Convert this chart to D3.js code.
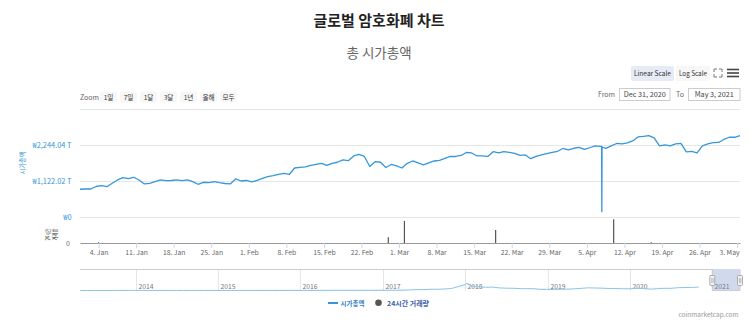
<!DOCTYPE html>
<html><head><meta charset="utf-8">
<script src="https://cdn.jsdelivr.net/npm/d3@7"></script>
<style>
body{margin:0;background:#fff}
svg{display:block}
text{font-family:"Noto Sans CJK KR","Noto Sans",sans-serif}
</style>
</head><body>
<svg id="c" width="750" height="326"></svg>
<script>
// ---------------- DATA ----------------
const titleText = "글로벌 암호화폐 차트";
const subtitleText = "총 시가총액";
const capStartDate = "2020-12-31T13:00:00Z"; // one point per day
// Total market cap, trillion KRW (daily)
const marketCap = [
  858, 867, 867, 945, 970, 939, 1045, 1149, 1221, 1189,
  1233, 1149, 1024, 1045, 1096, 1149, 1127, 1133, 1155, 1127,
  1149, 1096, 1014, 1077, 1064, 1096, 1064, 1039, 1024, 1180,
  1117, 1133, 1086, 1133, 1196, 1252, 1283, 1327, 1352, 1321,
  1524, 1540, 1556, 1609, 1640, 1671, 1603, 1671, 1703, 1775,
  1753, 1900, 1947, 1884, 1571, 1722, 1703, 1540, 1634, 1587,
  1524, 1671, 1743, 1681, 1618, 1681, 1743, 1759, 1822, 1884,
  1884, 1916, 2009, 1994, 1900, 1900, 1884, 2035, 1994, 2035,
  2009, 1978, 1916, 1931, 1815, 1884, 1931, 1972, 2009, 2047,
  2135, 2088, 2141, 2166, 2103, 2157, 2213, 2200, 2135, 2213,
  2291, 2276, 2313, 2369, 2495, 2510, 2535, 2463, 2213, 2244,
  2213, 2276, 2291, 2025, 2041, 1994, 2213, 2276, 2316, 2322,
  2416, 2485, 2485, 2535
];
// intraday glitch around 7 Apr (hourly points)
const glitchDates  = ["2021-04-07T18:00:00Z", "2021-04-07T19:00:00Z", "2021-04-07T20:00:00Z"];
const glitchValues = [2200, 157, 2180];
// 24h volume (trillion KRW) - only visible bars
const volumeDates  = ["2021-01-04", "2021-02-27", "2021-03-02", "2021-03-19", "2021-04-10", "2021-04-17"];
const volumeValues = [3, 23, 88, 52, 95, 3];
const volumeMax = 100;
// y-axis ticks (trillion KRW)
const capTicks = [0, 1122.02, 2244.04, 3366.06];
// navigator history (monthly, trillion KRW)
const navHistDates = [
  "2013-04-28","2013-05-01","2013-06-01","2013-07-01","2013-08-01","2013-09-01","2013-10-01","2013-11-01","2013-12-01",
  "2014-01-01","2014-02-01","2014-03-01","2014-04-01","2014-05-01","2014-06-01","2014-07-01","2014-08-01","2014-09-01","2014-10-01","2014-11-01","2014-12-01",
  "2015-01-01","2015-02-01","2015-03-01","2015-04-01","2015-05-01","2015-06-01","2015-07-01","2015-08-01","2015-09-01","2015-10-01","2015-11-01","2015-12-01",
  "2016-01-01","2016-02-01","2016-03-01","2016-04-01","2016-05-01","2016-06-01","2016-07-01","2016-08-01","2016-09-01","2016-10-01","2016-11-01","2016-12-01",
  "2017-01-01","2017-02-01","2017-03-01","2017-04-01","2017-05-01","2017-06-01","2017-07-01","2017-08-01","2017-09-01","2017-10-01","2017-11-01","2017-12-01",
  "2018-01-01","2018-01-08","2018-02-01","2018-03-01","2018-04-01","2018-05-01","2018-06-01","2018-07-01","2018-08-01","2018-09-01","2018-10-01","2018-11-01","2018-12-01",
  "2019-01-01","2019-02-01","2019-03-01","2019-04-01","2019-05-01","2019-06-01","2019-07-01","2019-08-01","2019-09-01","2019-10-01","2019-11-01","2019-12-01",
  "2020-01-01","2020-02-01","2020-03-01","2020-04-01","2020-05-01","2020-06-01","2020-07-01","2020-08-01","2020-09-01","2020-10-01","2020-11-01","2020-12-01"
];
const navHistValues = [
  1.6, 1.3, 1.1, 1.0, 1.3, 1.5, 2.0, 8, 12,
  11, 8, 7, 6, 7, 8, 7, 6, 5, 4.5, 5, 4.5,
  3.5, 3.5, 3.6, 3.5, 3.5, 3.6, 4.5, 4, 4, 4.5, 6, 7,
  7, 7.5, 8.5, 8.5, 9, 12, 11.5, 11, 11.5, 12.5, 14, 16,
  19, 22, 27, 35, 70, 120, 110, 160, 160, 190, 260, 520,
  780, 950, 560, 520, 420, 450, 340, 300, 290, 240, 240, 230,
  140, 140, 135, 160, 170, 220, 280, 350, 320, 300, 250, 260,
  220, 225, 280, 260, 175, 230, 280, 280, 360, 390, 380, 450
];
const navStartDate = "2013-04-28";
const navYears = ["2014","2015","2016","2017","2018","2019","2020","2021"];
const zoomButtons = ["1일", "7일", "1달", "3달", "1년", "올해", "모두"];
const seriesNames = ["시가총액", "24시간 거래량"];
const fromText = "Dec 31, 2020", toText = "May 3, 2021";

// ---------------- CHART ----------------
const svg = d3.select("#c");
const BLUE = "#3597d9";
const L = 80, R = 740;

function txt(x, y, s, size, o = {}) {
  const t = svg.append("text")
    .attr("transform", `translate(${x},${y})` + (o.rot ? ` rotate(${o.rot})` : ""))
    .attr("font-size", size)
    .attr("fill", o.fill || "#333")
    .attr("text-anchor", o.anchor || "start")
    .text(s);
  if (o.weight) t.attr("font-weight", o.weight);
  if (o.len) t.attr("textLength", o.len).attr("lengthAdjust", "spacingAndGlyphs");
  return t;
}

// Titles
txt(379, 26, titleText, 15, {anchor: "middle", weight: "bold", fill: "#222"});
txt(379, 58, subtitleText, 13.5, {anchor: "middle", fill: "#666"});

// Top right buttons
svg.append("rect").attr("x", 631).attr("y", 66).attr("width", 43).attr("height", 15).attr("rx", 2).attr("fill", "#e6ebf5");
txt(652.5, 76, "Linear Scale", 7.2, {anchor: "middle", fill: "#333", len: 37});
svg.append("rect").attr("x", 676).attr("y", 66).attr("width", 34).attr("height", 15).attr("rx", 2).attr("fill", "#f7f7f7");
txt(693, 76, "Log Scale", 7.2, {anchor: "middle", fill: "#333", len: 28});
// fullscreen icon
const fs = svg.append("g").attr("stroke", "#777").attr("stroke-width", 1).attr("fill", "none");
fs.append("path").attr("d", "M714,72 L714,69 L717,69 M719,69 L722,69 L722,72 M722,74 L722,77 L719,77 M717,77 L714,77 L714,74");
// hamburger
[69.5, 73, 76.5].forEach(y => svg.append("line").attr("x1", 727).attr("x2", 739).attr("y1", y).attr("y2", y).attr("stroke", "#444").attr("stroke-width", 1.6));

// Zoom row
txt(80, 99.5, "Zoom", 7, {fill: "#666"});
zoomButtons.forEach((b, i) => {
  const x = 100 + i * 20;
  svg.append("rect").attr("x", x).attr("y", 91.5).attr("width", 17).attr("height", 11).attr("rx", 2).attr("fill", "#f7f7f7");
  txt(x + 8.5, 99.5, b, 6.6, {anchor: "middle", fill: "#333"});
});
// From / To
txt(615, 97, "From", 7, {anchor: "end", fill: "#666"});
svg.append("rect").attr("x", 619.5).attr("y", 88.5).attr("width", 50.5).attr("height", 12).attr("fill", "#fff").attr("stroke", "#ccc");
txt(644.7, 97, fromText, 7, {anchor: "middle", fill: "#444", len: 42});
txt(676, 97, "To", 7, {fill: "#666"});
svg.append("rect").attr("x", 688.5).attr("y", 88.5).attr("width", 51.5).attr("height", 12).attr("fill", "#fff").attr("stroke", "#ccc");
txt(714.2, 97, toText, 7, {anchor: "middle", fill: "#444", len: 39});

// Series assembly
const start = new Date(capStartDate);
const capPoints = marketCap.map((v, i) => ({date: d3.utcDay.offset(start, i), value: v}))
  .concat(glitchDates.map((d, i) => ({date: new Date(d), value: glitchValues[i]})))
  .sort((a, b) => a.date - b.date);
const firstDate = capPoints[0].date, lastDate = capPoints[capPoints.length - 1].date;

// Scales
const x = d3.scaleUtc().domain([firstDate, lastDate]).range([L, R]);
const y = d3.scaleLinear().domain([0, 3366.06]).range([216.7, 109.1]);
const yv = d3.scaleLinear().domain([0, volumeMax]).range([243, 218]);

// gridlines
svg.append("g").selectAll("line").data(capTicks).join("line")
  .attr("x1", L).attr("x2", R).attr("y1", d => Math.round(y(d)) + 0.5).attr("y2", d => Math.round(y(d)) + 0.5)
  .attr("stroke", "#e6e6e6").attr("stroke-width", 1);

// Y axis (main)
const yAxis = svg.append("g").attr("transform", `translate(${L},0)`)
  .call(d3.axisLeft(y).tickValues(capTicks.slice(0, 3)).tickSize(0)
    .tickFormat(d => d === 0 ? "₩0" : "₩" + d3.format(",.2f")(d) + " T"));
yAxis.select(".domain").remove();
yAxis.selectAll("text").attr("x", -8.5).attr("dy", "0.33em").attr("font-size", 7.4).attr("fill", BLUE)
  .attr("font-family", '"Noto Sans CJK KR",sans-serif');

// Y axis title
txt(25, 163, seriesNames[0], 6.5, {anchor: "middle", rot: -90, fill: BLUE, len: 23});
// volume axis
const vAxis = svg.append("g").attr("transform", `translate(${L},0)`)
  .call(d3.axisLeft(yv).tickValues([0]).tickSize(0).tickFormat(d3.format("d")));
vAxis.select(".domain").remove();
vAxis.selectAll("text").attr("x", -10).attr("dy", "0.33em").attr("font-size", 7).attr("fill", "#666")
  .attr("font-family", '"Noto Sans CJK KR",sans-serif');
txt(50, 234.5, "24시간", 5.8, {anchor: "middle", rot: -90, fill: "#333", len: 12});
txt(56.5, 234.5, "거래량", 5.8, {anchor: "middle", rot: -90, fill: "#333", len: 12});

// main line
svg.append("path").datum(capPoints)
  .attr("fill", "none").attr("stroke", BLUE).attr("stroke-width", 1.3).attr("stroke-linejoin", "round")
  .attr("d", d3.line().x(d => x(d.date)).y(d => y(d.value)));

// volume columns
svg.append("g").selectAll("rect").data(volumeValues).join("rect")
  .attr("x", (d, i) => x(new Date(volumeDates[i] + "T00:00:00Z")) - 0.6)
  .attr("width", 1.2)
  .attr("y", d => yv(d)).attr("height", d => 243 - yv(d))
  .attr("fill", "#555");

// X axis
const mondays = d3.utcMonday.range(d3.utcDay.ceil(firstDate), d3.utcDay.offset(lastDate, 1));
const xAxis = svg.append("g").attr("transform", "translate(0,243)")
  .call(d3.axisBottom(x).tickValues(mondays).tickFormat(d3.utcFormat("%-d. %b")).tickSize(5).tickSizeOuter(0));
xAxis.select(".domain").attr("stroke", "#999");
xAxis.selectAll(".tick line").attr("stroke", "#ccd6eb");
xAxis.selectAll("text").attr("y", 11.5).attr("dy", null).attr("font-size", 6.8).attr("fill", "#666")
  .attr("font-family", '"Noto Sans CJK KR",sans-serif')
  .each(function(d) {
    const w = this.getComputedTextLength();
    const cx = x(d);
    if (cx + w / 2 > 739) d3.select(this).attr("x", 739 - w / 2 - cx);
  });

// Navigator
const navStart = new Date(navStartDate + "T00:00:00Z");
const navX = d3.scaleUtc().domain([navStart, lastDate]).range([L, R]);
const navPts = navHistDates.map((s, i) => ({date: new Date(s + "T00:00:00Z"), value: navHistValues[i]}))
  .concat(marketCap.map((v, i) => ({date: d3.utcDay.offset(start, i), value: v})));
const navY = d3.scaleLinear().domain([0, d3.max(navPts, d => d.value)]).range([290.5, 271]);
const NT = 269, NB = 291;
navYears.forEach(yr => {
  const d = new Date(yr + "-01-01T00:00:00Z");
  const gx = Math.round(navX(d)) + 0.5;
  svg.append("line").attr("x1", gx).attr("x2", gx).attr("y1", NT).attr("y2", NB).attr("stroke", "#e6e6e6");
  txt(gx + 2, 289.3, yr, 6.8, {fill: "#777"});
});
svg.append("path").datum(navPts)
  .attr("fill", "rgba(61,154,216,0.06)")
  .attr("d", d3.area().x(d => navX(d.date)).y0(NB).y1(d => navY(d.value)));
svg.append("path").datum(navPts)
  .attr("fill", "none").attr("stroke", "#8cc4ec").attr("stroke-width", 1)
  .attr("d", d3.line().x(d => navX(d.date)).y(d => navY(d.value)));
// mask
const mL = navX(firstDate), mR = navX(lastDate);
svg.append("rect").attr("x", mL).attr("y", NT).attr("width", mR - mL).attr("height", NB - NT)
  .attr("fill", "rgba(102,133,194,0.3)");
svg.append("path").attr("fill", "none").attr("stroke", "#ccc")
  .attr("d", `M${L},${NT + 0.5} L${mL},${NT + 0.5} L${mL},${NB - 0.5} L${mR},${NB - 0.5} L${mR},${NT + 0.5} L${R},${NT + 0.5}`);
[mL, mR].forEach(hx => {
  svg.append("rect").attr("x", hx - 2.5).attr("y", 275.5).attr("width", 5).attr("height", 10).attr("rx", 1)
    .attr("fill", "#f2f2f2").attr("stroke", "#999").attr("stroke-width", 0.8);
  svg.append("line").attr("x1", hx - 0.5).attr("x2", hx - 0.5).attr("y1", 278).attr("y2", 283).attr("stroke", "#999").attr("stroke-width", 0.6);
  svg.append("line").attr("x1", hx + 0.8).attr("x2", hx + 0.8).attr("y1", 278).attr("y2", 283).attr("stroke", "#999").attr("stroke-width", 0.6);
});

// Legend
svg.append("line").attr("x1", 328).attr("x2", 338).attr("y1", 303).attr("y2", 303).attr("stroke", BLUE).attr("stroke-width", 2);
txt(340.5, 305.5, seriesNames[0], 6.6, {fill: "#3d82c4", weight: "bold", len: 24});
svg.append("circle").attr("cx", 378.5).attr("cy", 302.8).attr("r", 3.3).attr("fill", "#555");
txt(387, 305.5, seriesNames[1], 6.6, {fill: "#3a62a8", weight: "bold", len: 42});

// Credits
txt(738.5, 317, "coinmarketcap.com", 6.5, {anchor: "end", fill: "#999"});
</script>
</body></html>
